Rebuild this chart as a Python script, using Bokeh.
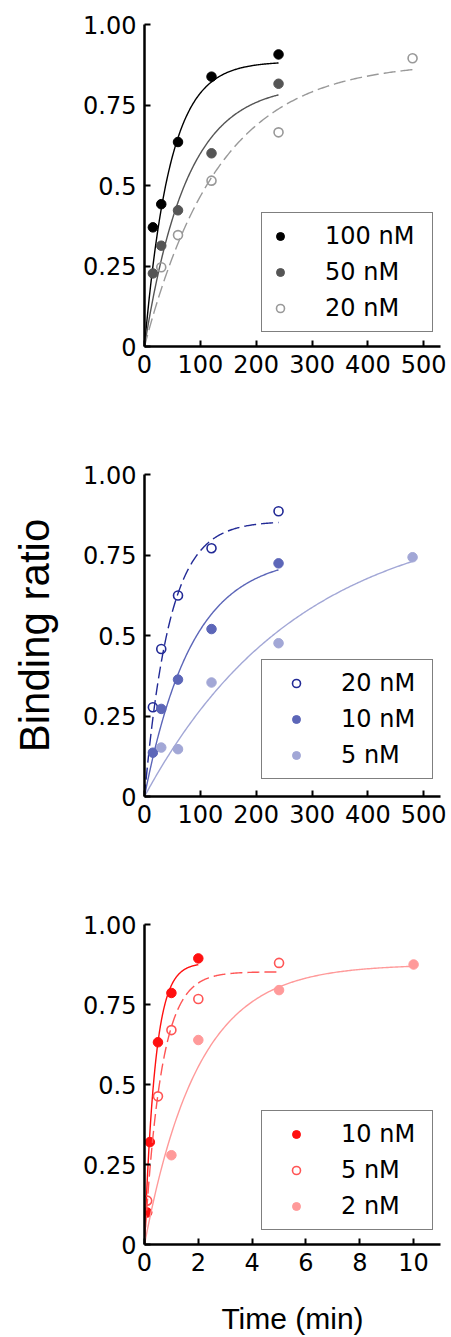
import numpy as np
from bokeh.plotting import figure
from bokeh.models import Legend, LegendItem, FixedTicker
from bokeh.layouts import column
from bokeh.embed import file_html
from bokeh.resources import INLINE

# ---------------- data ----------------
# Panel 1 (time in min)
p1_time = [15, 30, 60, 120, 240]
p1_100nM = [0.370, 0.442, 0.635, 0.838, 0.907]
p1_50nM = [0.227, 0.313, 0.423, 0.600, 0.816]
p1_time20 = [30, 60, 120, 240, 480]
p1_20nM = [0.246, 0.346, 0.515, 0.665, 0.895]

# Panel 2
p2_time = [15, 30, 60, 120, 240]
p2_20nM = [0.277, 0.458, 0.624, 0.771, 0.886]
p2_10nM = [0.136, 0.272, 0.363, 0.520, 0.724]
p2_time5 = [30, 60, 120, 240, 480]
p2_5nM = [0.152, 0.147, 0.354, 0.476, 0.743]

# Panel 3
p3_time10 = [0.1, 0.2, 0.5, 1, 2]
p3_10nM = [0.100, 0.320, 0.632, 0.786, 0.894]
p3_time5 = [0.1, 0.5, 1, 2, 5]
p3_5nM = [0.137, 0.463, 0.670, 0.767, 0.880]
p3_time2 = [1, 2, 5, 10]
p3_2nM = [0.279, 0.639, 0.795, 0.875]

# Fitted single-exponential curves: plateau, rate (1/min), last time of fit
fit_plateau = {"p1_100": 0.885, "p1_50": 0.815, "p1_20": 0.884,
               "p2_20": 0.855, "p2_10": 0.748, "p2_5": 0.886,
               "p3_10": 0.880, "p3_5": 0.852, "p3_2": 0.875}
fit_rate = {"p1_100": 0.022, "p1_50": 0.0133, "p1_20": 0.0075,
            "p2_20": 0.0223, "p2_10": 0.0118, "p2_5": 0.00362,
            "p3_10": 2.53, "p3_5": 1.6, "p3_2": 0.504}
fit_end = {"p1_100": 240, "p1_50": 240, "p1_20": 480,
           "p2_20": 240, "p2_10": 240, "p2_5": 480,
           "p3_10": 2, "p3_5": 5, "p3_2": 10}

y_ticks = [0, 0.25, 0.5, 0.75, 1.0]
y_tick_labels = ["0", "0.25", "0.5", "0.75", "1.00"]
x_ticks_min = [0, 100, 200, 300, 400, 500]
x_ticks_short = [0, 2, 4, 6, 8, 10]

TICK_FONT = "DejaVu Sans"


def fit_curve(key):
    t = np.linspace(0, fit_end[key], 200)
    return t, fit_plateau[key] * (1 - np.exp(-fit_rate[key] * t))


def make_fig(height, xmax, xticks, bottom):
    p = figure(width=451, height=height, x_range=(0, xmax), y_range=(0, 1.0),
               output_backend="svg", toolbar_location=None,
               min_border_left=144, min_border_right=11,
               min_border_top=24, min_border_bottom=bottom)
    p.outline_line_color = None
    p.grid.visible = False
    p.background_fill_color = "white"
    p.border_fill_color = "white"
    for ax in (p.xaxis[0], p.yaxis[0]):
        ax.axis_line_width = 2.5
        ax.axis_line_color = "black"
        ax.major_tick_in = 6
        ax.major_tick_out = 0
        ax.major_tick_line_width = 2
        ax.minor_tick_line_color = None
        ax.major_label_text_font = TICK_FONT
        ax.major_label_text_font_size = "24px"
        ax.major_label_text_color = "black"
    p.yaxis.ticker = FixedTicker(ticks=y_ticks)
    p.yaxis.major_label_overrides = {t: l for t, l in zip(y_ticks, y_tick_labels)}
    p.yaxis.major_label_standoff = 8
    p.xaxis.ticker = FixedTicker(ticks=xticks)
    p.xaxis.major_label_standoff = 8
    return p


def add_series(p, key, tx, ty, color, open_marker, dash):
    t, y = fit_curve(key)
    p.line(t, y, line_color=color, line_width=1.4, line_dash=dash)
    if open_marker:
        r = p.scatter(tx, ty, size=9, marker="circle", fill_color=None,
                      line_color=color, line_width=1.6)
    else:
        r = p.scatter(tx, ty, size=9.5, marker="circle", fill_color=color,
                      line_color=color, line_width=1)
    return r


def add_legend(p, items, glyph_width, standoff, label_width, yoff):
    leg = Legend(items=[LegendItem(label=l, renderers=[r]) for l, r in items],
                 location=(117, yoff), orientation="vertical",
                 label_text_font=TICK_FONT, label_text_font_size="24px",
                 label_text_color="black",
                 glyph_width=glyph_width, glyph_height=20, label_height=30,
                 label_standoff=standoff, label_width=label_width,
                 spacing=6, padding=8, margin=0,
                 border_line_color="black", border_line_width=1.2,
                 background_fill_color="white", background_fill_alpha=1.0)
    p.add_layout(leg, "center")


# ---------------- panel 1 ----------------
p1 = make_fig(450, 530, x_ticks_min, 104)
r100 = add_series(p1, "p1_100", p1_time, p1_100nM, "#000000", False, "solid")
r50 = add_series(p1, "p1_50", p1_time, p1_50nM, "#555555", False, "solid")
r20 = add_series(p1, "p1_20", p1_time20, p1_20nM, "#999999", True, "12 5")
add_legend(p1, [("100 nM", r100), ("50 nM", r50), ("20 nM", r20)], 20, 35, 99, 14)

# ---------------- panel 2 ----------------
p2 = make_fig(450, 530, x_ticks_min, 104)
b20 = add_series(p2, "p2_20", p2_time, p2_20nM, "#222a96", True, "12 5")
b10 = add_series(p2, "p2_10", p2_time, p2_10nM, "#5c66b8", False, "solid")
b5 = add_series(p2, "p2_5", p2_time5, p2_5nM, "#a2a7d6", False, "solid")
add_legend(p2, [("20 nM", b20), ("10 nM", b10), ("5 nM", b5)], 52, 19, 83, 17)
p2.yaxis.axis_label = "Binding ratio"
p2.yaxis.axis_label_text_font = "Liberation Sans"
p2.yaxis.axis_label_text_font_size = "42px"
p2.yaxis.axis_label_text_font_style = "normal"
p2.yaxis.axis_label_text_color = "black"
p2.yaxis.axis_label_standoff = 22

# ---------------- panel 3 ----------------
p3 = make_fig(437, 11, x_ticks_short, 91)
c10 = add_series(p3, "p3_10", p3_time10, p3_10nM, "#ff1010", False, "solid")
c5 = add_series(p3, "p3_5", p3_time5, p3_5nM, "#ff5555", True, "12 5")
c2 = add_series(p3, "p3_2", p3_time2, p3_2nM, "#ff9a9a", False, "solid")
add_legend(p3, [("10 nM", c10), ("5 nM", c5), ("2 nM", c2)], 52, 19, 83, 14)
p3.xaxis.axis_label = "Time (min)"
p3.xaxis.axis_label_text_font = "Liberation Sans"
p3.xaxis.axis_label_text_font_size = "30px"
p3.xaxis.axis_label_text_font_style = "normal"
p3.xaxis.axis_label_text_color = "black"
p3.xaxis.axis_label_standoff = 28

layout = column(p1, p2, p3, spacing=0)
open("out.html", "w").write(file_html(layout, INLINE))
